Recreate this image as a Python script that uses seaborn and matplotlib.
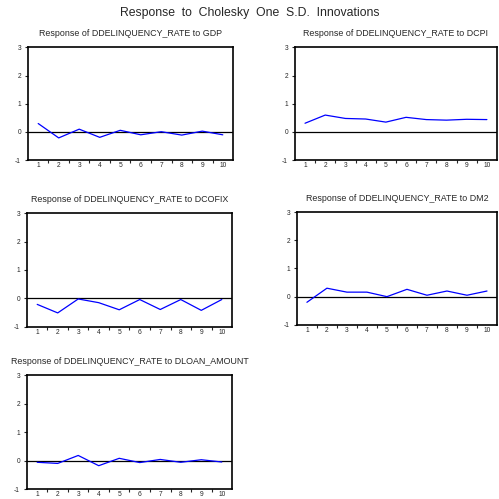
import numpy as np
import pandas as pd
import seaborn as sns
import matplotlib.pyplot as plt
from matplotlib.ticker import FixedLocator

sns.set_style("white")
plt.rcParams['font.family'] = ['Liberation Sans', 'DejaVu Sans']
plt.rcParams['axes.unicode_minus'] = False

PERIODS = [1, 2, 3, 4, 5, 6, 7, 8, 9, 10]
RESP_GDP = [0.30, -0.21, 0.10, -0.19, 0.06, -0.10, 0.01, -0.11, 0.03, -0.10]
RESP_DCPI = [0.31, 0.60, 0.48, 0.46, 0.35, 0.52, 0.44, 0.42, 0.45, 0.44]
RESP_DCOFIX = [-0.21, -0.51, -0.02, -0.15, -0.40, -0.04, -0.39, -0.04, -0.42, -0.04]
RESP_DM2 = [-0.20, 0.30, 0.16, 0.16, 0.00, 0.26, 0.05, 0.20, 0.05, 0.20]
RESP_LOAN = [-0.06, -0.10, 0.18, -0.18, 0.08, -0.07, 0.04, -0.06, 0.03, -0.05]
SHOCKS = ["GDP", "DCPI", "DCOFIX", "DM2", "DLOAN_AMOUNT"]
YTICKS = [-1, 0, 1, 2, 3]

# axes rectangles in figure fractions (left, bottom, width, height)
RECTS = [
    (0.056, 0.679, 0.411, 0.226),
    (0.591, 0.679, 0.405, 0.226),
    (0.054, 0.345, 0.411, 0.228),
    (0.595, 0.349, 0.401, 0.226),
    (0.054, 0.020, 0.411, 0.228),
]

series = [RESP_GDP, RESP_DCPI, RESP_DCOFIX, RESP_DM2, RESP_LOAN]

fig = plt.figure(figsize=(4.99, 4.99), dpi=100)
fig.suptitle("Response  to  Cholesky  One  S.D.  Innovations", y=0.985, fontsize=8.8)

for shock, vals, rect in zip(SHOCKS, series, RECTS):
    ax = fig.add_axes(rect)
    df = pd.DataFrame({"period": PERIODS, "resp": vals})
    ax.axhline(0, color="black", lw=0.9, zorder=1)
    sns.lineplot(data=df, x="period", y="resp", ax=ax, color="#0000ff", lw=0.9, zorder=2)
    ax.set_xlim(0.5, 10.5)
    ax.set_ylim(-1, 3)
    ax.set_xticks(PERIODS)
    ax.set_yticks(YTICKS)
    ax.xaxis.set_minor_locator(FixedLocator(np.arange(1.5, 10.5, 1)))
    ax.tick_params(axis="x", which="major", length=0, labelsize=4.8, pad=1.5)
    ax.tick_params(axis="x", which="minor", length=2.5, width=0.8, direction="out", bottom=True)
    ax.tick_params(axis="y", which="major", length=2, width=0.8, direction="out", left=True, labelsize=4.8, pad=3)
    ax.set_xlabel("")
    ax.set_ylabel("")
    ax.set_title(f"Response of DDELINQUENCY_RATE to {shock}", fontsize=6.4, pad=8)
    for sp in ax.spines.values():
        sp.set_color("black")
        sp.set_linewidth(1.2)

fig.savefig("out.png", dpi=100, facecolor="white")
